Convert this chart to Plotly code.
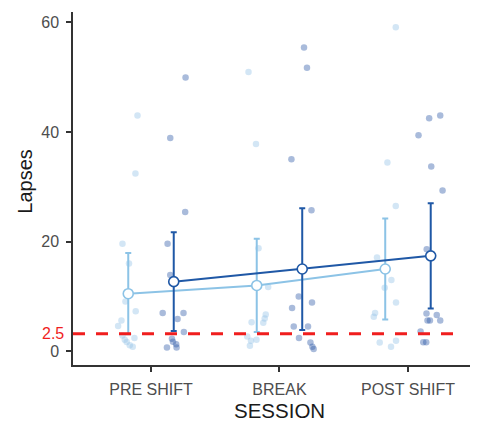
import plotly.graph_objects as go

# ---------------- data ----------------
sessions = ["PRE SHIFT", "BREAK", "POST SHIFT"]
tick_vals_y = [0, 20, 40, 60]
threshold_label = "2.5"
threshold_pos = 3.2

light_mean = [10.5, 12.0, 15.0]
light_err = [7.4, 8.5, 9.2]
dark_mean = [12.7, 15.0, 17.4]
dark_err = [9.0, 11.1, 9.6]

# individual points (values) and horizontal jitter (category units)
light_pre = [43.0, 32.4, 19.6, 16.0, 9.1, 7.3, 5.6, 4.6, 2.9, 2.4, 2.1, 1.7, 1.1, 0.85]
light_pre_j = [0.072, 0.056, -0.045, 0.006, -0.022, 0.058, -0.053, -0.079, -0.045, 0.048, -0.027, -0.012, 0.012, 0.035]
dark_pre = [49.9, 38.9, 25.4, 19.6, 13.9, 7.0, 7.0, 5.9, 3.5, 2.3, 1.75, 1.3, 0.7, 0.7]
dark_pre_j = [0.092, -0.027, 0.089, -0.048, -0.027, -0.086, 0.076, 0.030, 0.079, -0.014, -0.006, 0.019, -0.053, 0.022]

light_break = [50.9, 37.8, 18.8, 11.7, 6.7, 6.0, 5.2, 5.3, 2.7, 2.1, 1.9, 1.0]
light_break_j = [-0.064, -0.006, 0.014, 0.089, 0.070, 0.062, 0.051, -0.040, -0.074, -0.002, -0.045, -0.053]
dark_break = [55.4, 51.7, 35.0, 25.7, 10.0, 8.9, 7.9, 4.5, 4.5, 2.4, 1.6, 0.85, 0.4]
dark_break_j = [0.014, 0.037, -0.084, 0.072, -0.027, 0.076, -0.079, -0.066, 0.045, -0.025, 0.064, 0.079, 0.089]

light_post = [59.1, 34.4, 26.5, 17.1, 13.0, 11.6, 8.9, 7.0, 6.3, 1.9, 1.6, 0.85]
light_post_j = [0.082, 0.017, 0.082, -0.064, 0.048, -0.004, 0.084, -0.079, -0.089, 0.084, -0.043, 0.045]
dark_post = [43.0, 42.5, 39.4, 33.7, 29.3, 18.6, 6.9, 6.6, 5.6, 5.6, 5.6, 3.6, 1.65, 1.65]
dark_post_j = [0.074, -0.012, -0.095, 0.004, 0.092, -0.031, -0.033, 0.047, -0.025, -0.006, 0.074, -0.079, -0.058, -0.035]

# ---------------- style ----------------
DODGE = 0.177
LIGHT = "#8cc3e6"
DARK = "#1f58a6"
LIGHT_PT = "rgba(150,196,230,0.42)"
DARK_PT = "rgba(40,86,165,0.40)"
FONT = "Liberation Sans, Arial, Helvetica, sans-serif"
GREY = "#4d4d4d"

fig = go.Figure()

def add_points(vals, jit, cat_idx, dodge, color):
    xs = [cat_idx + dodge + j for j in jit]
    fig.add_trace(go.Scatter(x=xs, y=vals, mode="markers",
                             marker=dict(size=6.5, color=color, line=dict(width=0)),
                             hoverinfo="skip", showlegend=False))

light_sets = [(light_pre, light_pre_j), (light_break, light_break_j), (light_post, light_post_j)]
dark_sets = [(dark_pre, dark_pre_j), (dark_break, dark_break_j), (dark_post, dark_post_j)]
for i, (v, j) in enumerate(light_sets):
    add_points(v, j, i + 1, -DODGE, LIGHT_PT)
for i, (v, j) in enumerate(dark_sets):
    add_points(v, j, i + 1, DODGE, DARK_PT)

xs_light = [i + 1 - DODGE for i in range(len(sessions))]
xs_dark = [i + 1 + DODGE for i in range(len(sessions))]

# threshold dashed line
fig.add_shape(type="line", xref="x", yref="y", x0=0.393, x1=3.43,
              y0=threshold_pos, y1=threshold_pos,
              line=dict(color="#f01e1e", width=3, dash="12px,11px"))

for xs, means, errs, col in [(xs_light, light_mean, light_err, LIGHT),
                             (xs_dark, dark_mean, dark_err, DARK)]:
    fig.add_trace(go.Scatter(
        x=xs, y=means, mode="lines+markers",
        line=dict(color=col, width=2),
        marker=dict(size=10, color="white", line=dict(color=col, width=1.6)),
        error_y=dict(type="data", array=errs, visible=True, color=col,
                     thickness=2, width=3),
        hoverinfo="skip", showlegend=False))

fig.add_annotation(x=0, xref="paper", y=threshold_pos, yref="y", text=threshold_label,
                   showarrow=False, xanchor="right", xshift=-7,
                   font=dict(color="#f01e1e", size=16, family=FONT))

fig.add_annotation(x=-0.118, xref="paper", y=0.52, yref="paper", text="Lapses",
                   textangle=-90, showarrow=False, xanchor="center", yanchor="middle",
                   font=dict(color="#1a1a1a", size=20, family=FONT))
fig.add_annotation(x=2, xref="x", y=-0.13, yref="paper", text="SESSION",
                   showarrow=False, xanchor="center", yanchor="middle",
                   font=dict(color="#1a1a1a", size=20.5, family=FONT))

fig.update_xaxes(range=[0.393, 3.545], tickvals=[1, 2, 3], ticktext=sessions,
                 showline=True, linecolor="#333333", linewidth=1.5,
                 ticks="outside", ticklen=5, tickwidth=1.5, tickcolor="#333333",
                 tickfont=dict(size=16, color=GREY, family=FONT),
                 showgrid=False, zeroline=False, ticklabelstandoff=4)
fig.update_yaxes(range=[-2.5, 61.86], tickvals=tick_vals_y,
                 showline=True, linecolor="#333333", linewidth=1.5,
                 ticks="outside", ticklen=5, tickwidth=1.5, tickcolor="#333333",
                 tickfont=dict(size=16, color=GREY, family=FONT),
                 showgrid=False, zeroline=False, ticklabelstandoff=4)

# page body adds an 8px offset; size the figure so the panel lands where the reference has it
fig.update_layout(width=470, height=416,
                  margin=dict(l=65, r=0, t=4, b=59),
                  plot_bgcolor="white", paper_bgcolor="white",
                  font=dict(family=FONT))

fig.write_html("out.html")
